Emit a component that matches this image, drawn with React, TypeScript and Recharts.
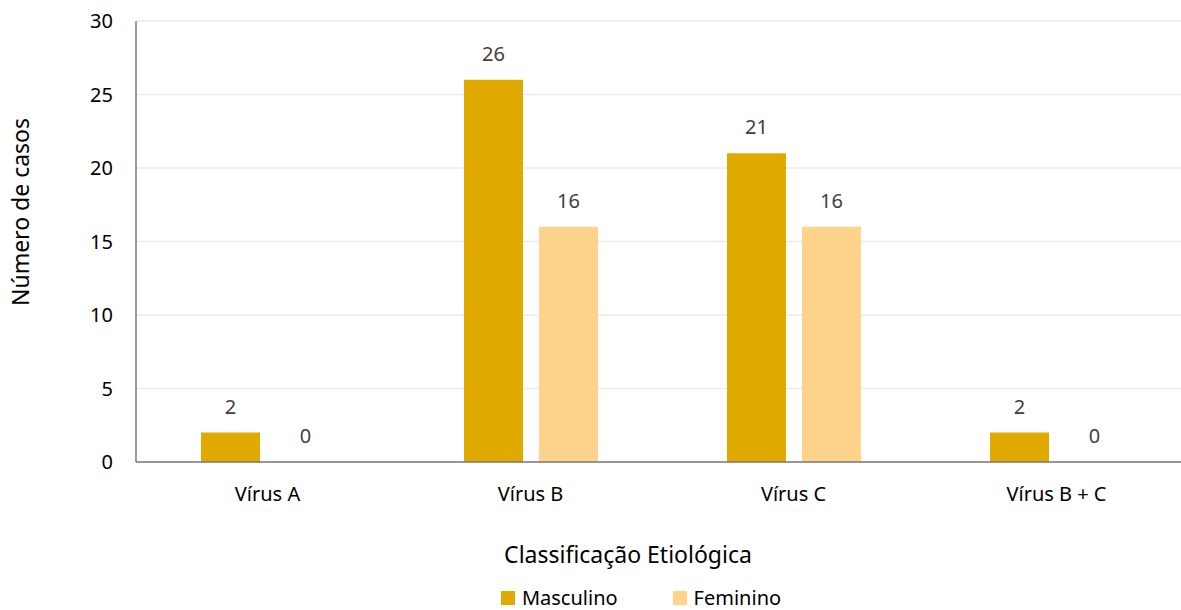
import { Bar, BarChart, CartesianGrid, Label, LabelList, Legend, XAxis, YAxis } from "recharts";

const categories = ["Vírus A", "Vírus B", "Vírus C", "Vírus B + C"];
const masculino = [2, 26, 21, 2];
const feminino = [0, 16, 16, 0];
const yTicks = [0, 5, 10, 15, 20, 25, 30];

const data = categories.map((c, i) => ({ name: c, Masculino: masculino[i], Feminino: feminino[i] }));

const FONT = "'Noto Sans', sans-serif";
const MASC = "#E1AA00";
const FEM = "#FFD38B";
const BAR_GAP = 16;

function LegendBox() {
  const item = (color: string, text: string, ml: number) => (
    <span style={{ display: "inline-flex", alignItems: "center", marginLeft: ml }}>
      <span style={{ width: 14, height: 14, background: color, marginRight: 7, display: "inline-block" }} />
      <span style={{ fontSize: 20, color: "#000" }}>{text}</span>
    </span>
  );
  return (
    <div style={{ height: 44, paddingTop: 20, paddingLeft: 18, boxSizing: "border-box", textAlign: "center", fontFamily: FONT, whiteSpace: "nowrap", lineHeight: "24px" }}>
      <div style={{ display: "inline-block" }}>
        {item(MASC, "Masculino", 0)}
        {item(FEM, "Feminino", 55)}
      </div>
    </div>
  );
}

const labelStyle = { fontSize: 20, fill: "#404040", fontFamily: FONT };

const renderValue = (p: any) => (
  <text x={Number(p.x) + Number(p.width) / 2} y={Number(p.y) - 19} textAnchor="middle" style={labelStyle}>
    {String(p.value)}
  </text>
);

// zero-height Feminino bars get no label from recharts, so draw "0" next to the Masculino bar
const renderZeroFem = (p: any) => {
  if (Number(p.value) !== 0) return null;
  const w = Number(p.width);
  return (
    <text x={Number(p.x) + w + BAR_GAP + w / 2} y={Number(p.y) + Number(p.height) - 19} textAnchor="middle" style={labelStyle}>
      {String(p.value)}
    </text>
  );
};

export default function App() {
  return (
    <div style={{ position: "absolute", left: 0, top: 0, width: 1181, height: 610, background: "#fff", fontFamily: FONT, overflow: "hidden" }}>
      <BarChart width={1181} height={610} data={data} margin={{ top: 21, right: -7, left: 76, bottom: 0 }} barSize={59} barGap={BAR_GAP}>
        <CartesianGrid vertical={false} stroke="#EBEBEB" strokeWidth={1.5} />
        <XAxis
          dataKey="name"
          height={104}
          tickLine={false}
          axisLine={{ stroke: "#7A7A7A", strokeWidth: 1.5 }}
          tick={{ fontSize: 20, fill: "#000", fontFamily: FONT }}
          tickMargin={19}
        >
          <Label
            content={() => (
              <text x={628} y={563} textAnchor="middle" style={{ fontSize: 23, fill: "#000", fontFamily: FONT }}>
                Classificação Etiológica
              </text>
            )}
          />
        </XAxis>
        <YAxis
          width={60}
          domain={[0, 30]}
          ticks={yTicks}
          tickLine={false}
          axisLine={{ stroke: "#7A7A7A", strokeWidth: 1.5 }}
          tick={{ fontSize: 20, fill: "#000", fontFamily: FONT }}
          tickMargin={17}
        >
          <Label
            content={() => (
              <text x={20} y={212} transform="rotate(-90 20 212)" textAnchor="middle" dominantBaseline="central" style={{ fontSize: 23, fill: "#000", fontFamily: FONT }}>
                Número de casos
              </text>
            )}
          />
        </YAxis>
        <Legend verticalAlign="bottom" content={() => <LegendBox />} />
        <Bar dataKey="Masculino" fill={MASC} isAnimationActive={false}>
          <LabelList dataKey="Masculino" content={renderValue} />
          <LabelList dataKey="Feminino" content={renderZeroFem} />
        </Bar>
        <Bar dataKey="Feminino" fill={FEM} isAnimationActive={false}>
          <LabelList dataKey="Feminino" content={renderValue} />
        </Bar>
      </BarChart>
    </div>
  );
}
